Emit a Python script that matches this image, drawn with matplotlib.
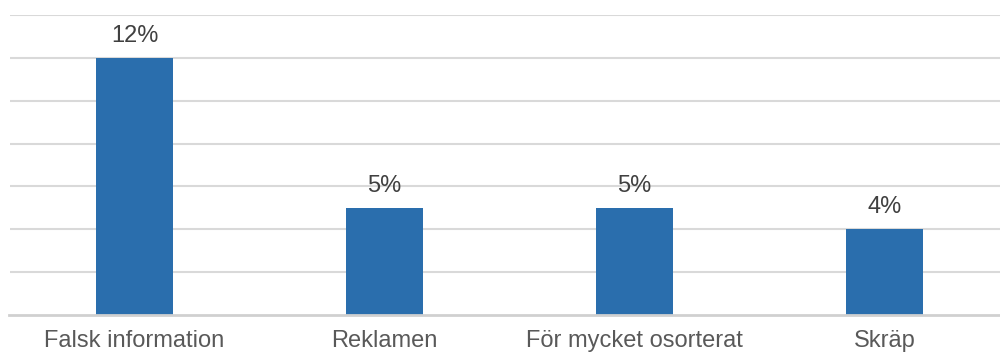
import matplotlib.pyplot as plt

categories = ['Falsk information', 'Reklamen', 'För mycket osorterat', 'Skräp']
values = [12, 5, 5, 4]
labels = ['12%', '5%', '5%', '4%']


def main():
    plt.rcParams['font.family'] = ['Liberation Sans', 'DejaVu Sans']

    fig = plt.figure(figsize=(10, 3.54), dpi=100)
    ax = fig.add_axes([0.0095, 0.110, 1.0, 0.848])

    x = range(len(categories))
    bars = ax.bar(x, values, width=0.31, color='#2a6ead', zorder=3)

    for b, lab in zip(bars, labels):
        ax.annotate(lab, (b.get_x() + b.get_width() / 2, b.get_height()),
                    xytext=(0, 11.5), textcoords='offset points',
                    ha='center', va='baseline', fontsize=17, color='#404040')

    ax.set_xlim(-0.5, 3.5)
    ax.set_ylim(0, 14)
    ax.set_yticks(range(2, 15, 2))
    ax.yaxis.grid(True, color='#d9d9d9', linewidth=1.5, zorder=0)
    ax.set_yticklabels([])
    ax.tick_params(axis='y', length=0)

    ax.set_xticks(list(x))
    ax.set_xticklabels(categories, fontsize=17, color='#595959')
    ax.tick_params(axis='x', length=0, pad=11)

    for s in ['top', 'right', 'left']:
        ax.spines[s].set_visible(False)
    ax.spines['bottom'].set_color('#d0d0d0')
    ax.spines['bottom'].set_linewidth(2)
    ax.spines['bottom'].set_zorder(4)

    fig.savefig('out.png', dpi=100)


if __name__ == '__main__':
    main()
